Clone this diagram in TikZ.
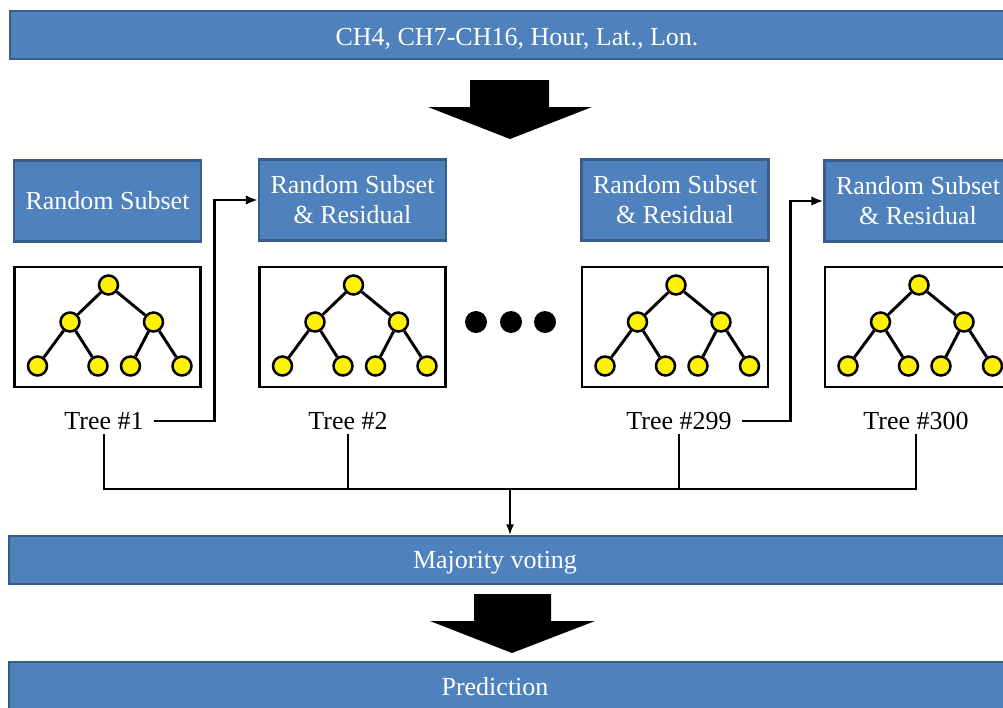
\documentclass[tikz,border=0pt]{standalone}
\usepackage{fontspec}
\setmainfont{Liberation Serif}
\usepackage{xcolor}
\usetikzlibrary{arrows.meta,positioning}
\definecolor{boxblue}{RGB}{79,129,189}
\definecolor{boxedge}{RGB}{56,93,138}
\newcommand{\pxu}{0.75pt}

\begin{document}
\begin{tikzpicture}[x=0.75pt, y=-0.75pt,
    every node/.style={font=\fontsize{19.5}{22.5}\selectfont},
    bar/.style={draw=boxedge, line width=1.6pt, fill=boxblue, minimum height=48*\pxu, inner sep=0pt},
    bartext/.style={text=white, inner sep=0pt, anchor=base},
    subsetbox/.style={draw=boxedge, line width=1.6pt, fill=boxblue, text=white, align=center,
        minimum width=187*\pxu, minimum height=81*\pxu, inner sep=0pt},
    treebox/.style={draw, line width=2.2pt, minimum width=186*\pxu, minimum height=120*\pxu, inner sep=0pt},
    bead/.style={circle, draw, fill=yellow, line width=1.9pt, minimum size=19*\pxu, inner sep=0pt},
    branch/.style={line width=2.2pt},
    wire/.style={line width=1.8pt},
    link/.style={line width=1.8pt, -{Latex[length=9pt,width=7pt]}},
    thinlink/.style={line width=1.1pt, -{Latex[length=8pt,width=6pt]}},
    bigarrow/.style={fill=black}]
    \useasboundingbox (0,0) rectangle (1003,707);
    \clip (0,0) rectangle (1003,707);

    % Input features
    \node[bar, minimum width=1014*\pxu] (inputs) at (517,35) {};
    \node[bartext] (inputtext) at (517,45) {CH4, CH7-CH16, Hour, Lat., Lon.};
    \fill[bigarrow] (470,80) -- (549,80) -- (549,107) -- (592,107) -- (510,139) -- (428,107) -- (470,107) -- cycle;

    % Subsets for each tree
    \node[subsetbox] (sub1) at (107.5,201) {Random Subset};
    \node[subsetbox] (sub2) at (352.5,200) {Random Subset\\\& Residual};
    \node[subsetbox] (sub3) at (675,200) {Random Subset\\\& Residual};
    \node[subsetbox] (sub4) at (918,201) {Random Subset\\\& Residual};

    % Trees
    \foreach \i/\cx in {1/107.5, 2/352.5, 3/675, 4/918} {
        \node[treebox] (tbox\i) at (\cx,327) {};
        \node[bead] (t\i-r) at (\cx+1,285) {};
        \node[bead] (t\i-a) at (\cx-37.5,322) {};
        \node[bead] (t\i-b) at (\cx+46,322) {};
        \node[bead] (t\i-aa) at (\cx-70,366) {};
        \node[bead] (t\i-ab) at (\cx-9.5,366) {};
        \node[bead] (t\i-ba) at (\cx+23,366) {};
        \node[bead] (t\i-bb) at (\cx+74.5,366) {};
        \draw[branch] (t\i-r) -- (t\i-a) (t\i-r) -- (t\i-b);
        \draw[branch] (t\i-a) -- (t\i-aa) (t\i-a) -- (t\i-ab);
        \draw[branch] (t\i-b) -- (t\i-ba) (t\i-b) -- (t\i-bb);
    }
    \foreach \d in {476,511,545}
        \fill (\d,322) circle[radius=11*\pxu];

    % Tree names
    \node (lab1) at (104,421) {Tree \#1};
    \node (lab2) at (348,421) {Tree \#2};
    \node (lab3) at (679,421) {Tree \#299};
    \node (lab4) at (916,421) {Tree \#300};

    % Residual passed on
    \draw[link] ([xshift=4pt]lab1.east) -- ++(61,0) |- (sub2.west);
    \draw[link] ([xshift=4pt]lab3.east) -- ++(49,0) |- (sub4.west);

    % Collecting the votes
    \coordinate (join) at (510,489);
    \node[bar, minimum width=1040*\pxu] (vote) at (529,560) {};
    \node[bartext] (votetext) at (495,568) {Majority voting};
    \draw[wire] (lab1.south) -- (lab1.south |- join) -- (lab4.south |- join) -- (lab4.south);
    \draw[wire] (lab2.south) -- (lab2.south |- join);
    \draw[wire] (lab3.south) -- (lab3.south |- join);
    \draw[thinlink] (join) -- (join |- vote.north);

    % Output
    \fill[bigarrow] (474,594) -- (551,594) -- (551,621) -- (595,621) -- (512,653) -- (430,621) -- (474,621) -- cycle;
    \node[bar, minimum width=1040*\pxu] (pred) at (529,686) {};
    \node[bartext] (predtext) at (495,695) {Prediction};
\end{tikzpicture}
\end{document}
